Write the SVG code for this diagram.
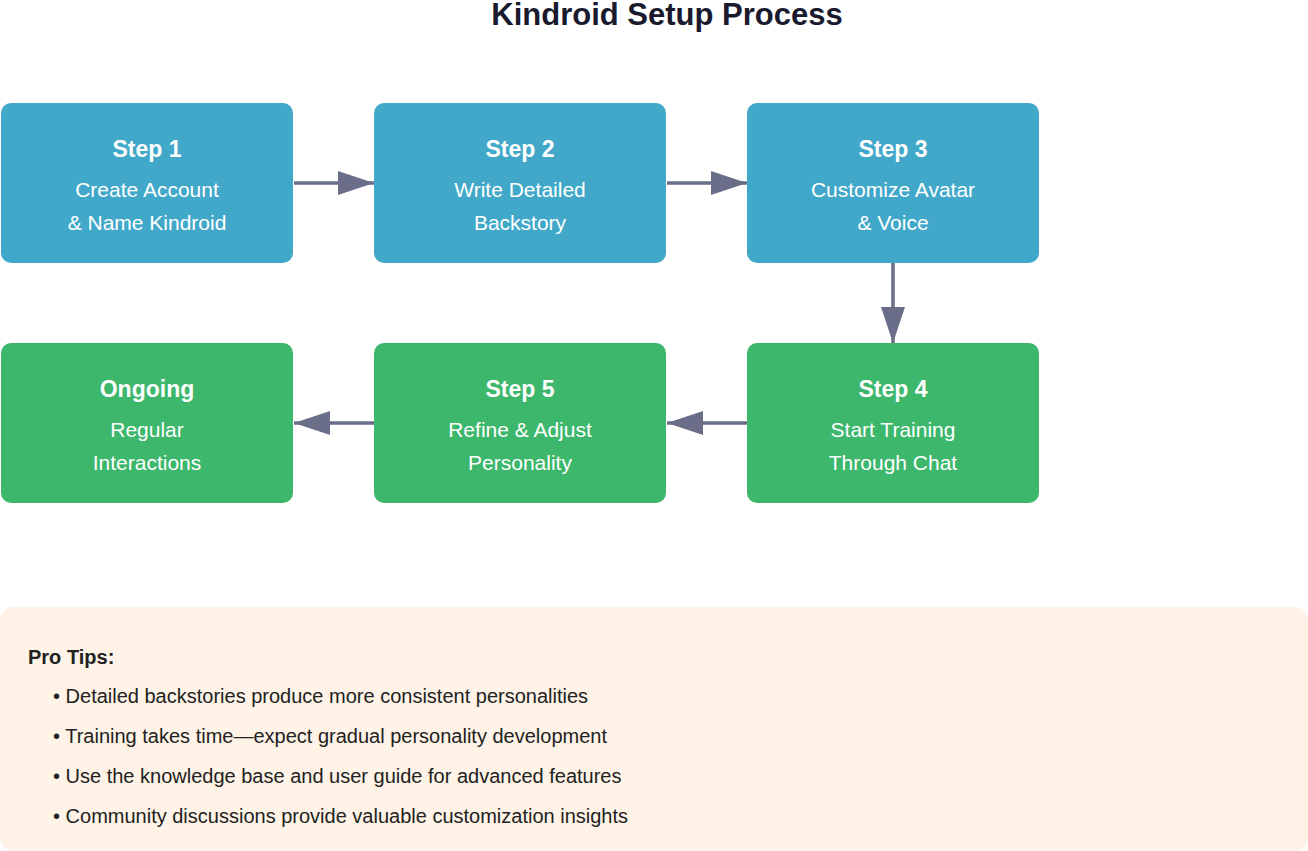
<svg xmlns="http://www.w3.org/2000/svg" width="1308" height="851" viewBox="0 0 1308 851">
<style>
text{font-family:"Liberation Sans",Arial,sans-serif}
.b{fill:#42A8C9}.g{fill:#3CB76C}
.h{font-size:23px;font-weight:bold;fill:#fff;text-anchor:middle}
.t{font-size:21px;fill:#fff;text-anchor:middle}
.c{stroke:#6A6E89;stroke-width:3.5;fill:none;marker-end:url(#a)}
.p{font-size:20px;fill:#222}
</style>
<defs><marker id="a" markerWidth="36" markerHeight="24" refX="36" refY="12" orient="auto" markerUnits="userSpaceOnUse" viewBox="0 0 36 24"><path d="M0,0L36,12L0,24z" fill="#6A6E89"/></marker></defs>
<rect width="1308" height="851" fill="#fff"/>
<text x="667" y="25" font-size="31" font-weight="bold" text-anchor="middle" fill="#1a1a2e">Kindroid Setup Process</text>
<g id="connectors">
<path class="c" d="M294,183H374"/>
<path class="c" d="M667,183H747"/>
<path class="c" d="M893,263V343"/>
<path class="c" d="M747,423H667"/>
<path class="c" d="M374,423H294"/>
</g>
<g id="n1"><rect class="b" x="1" y="103" width="292" height="160" rx="10"/><text class="h" x="147" y="157">Step 1</text><text class="t" x="147" y="197">Create Account</text><text class="t" x="147" y="230">&amp; Name Kindroid</text></g>
<g id="n2"><rect class="b" x="374" y="103" width="292" height="160" rx="10"/><text class="h" x="520" y="157">Step 2</text><text class="t" x="520" y="197">Write Detailed</text><text class="t" x="520" y="230">Backstory</text></g>
<g id="n3"><rect class="b" x="747" y="103" width="292" height="160" rx="10"/><text class="h" x="893" y="157">Step 3</text><text class="t" x="893" y="197">Customize Avatar</text><text class="t" x="893" y="230">&amp; Voice</text></g>
<g id="n4"><rect class="g" x="747" y="343" width="292" height="160" rx="10"/><text class="h" x="893" y="397">Step 4</text><text class="t" x="893" y="437">Start Training</text><text class="t" x="893" y="470">Through Chat</text></g>
<g id="n5"><rect class="g" x="374" y="343" width="292" height="160" rx="10"/><text class="h" x="520" y="397">Step 5</text><text class="t" x="520" y="437">Refine &amp; Adjust</text><text class="t" x="520" y="470">Personality</text></g>
<g id="n6"><rect class="g" x="1" y="343" width="292" height="160" rx="10"/><text class="h" x="147" y="397">Ongoing</text><text class="t" x="147" y="437">Regular</text><text class="t" x="147" y="470">Interactions</text></g>
<g id="tips"><rect x="0" y="607" width="1308" height="244" rx="14" fill="#FEF3E6"/>
<text x="28" y="664" font-size="20" font-weight="bold" fill="#222">Pro Tips:</text>
<text class="p" x="53" y="703">• Detailed backstories produce more consistent personalities</text>
<text class="p" x="53" y="743">• Training takes time—expect gradual personality development</text>
<text class="p" x="53" y="783">• Use the knowledge base and user guide for advanced features</text>
<text class="p" x="53" y="823">• Community discussions provide valuable customization insights</text>
</g>
</svg>
